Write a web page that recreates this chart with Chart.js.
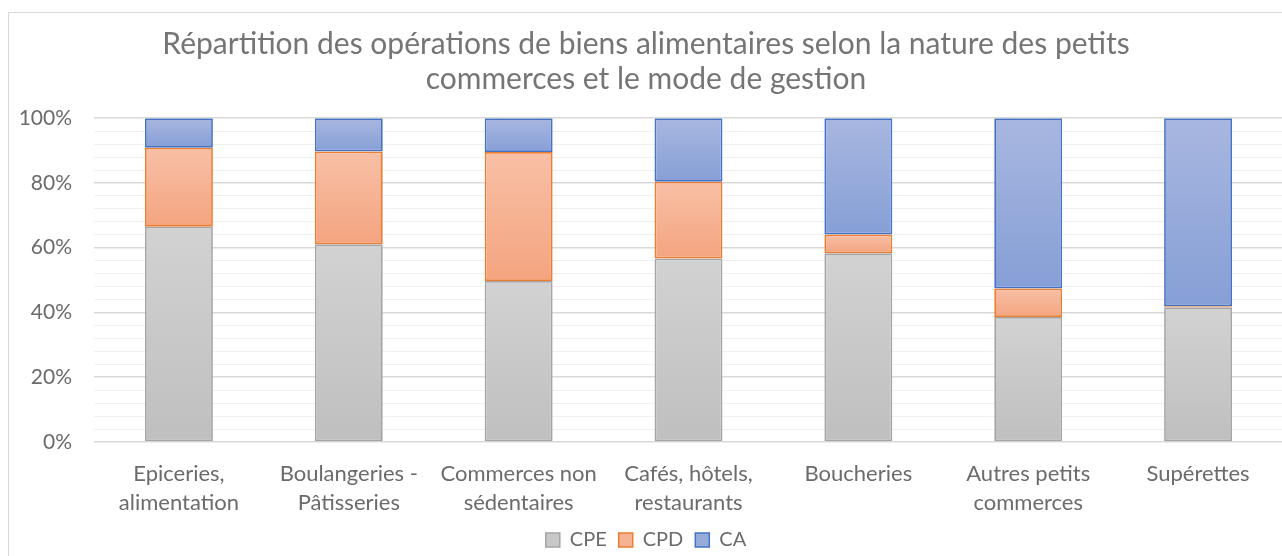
<!DOCTYPE html>
<html><head><meta charset="utf-8">
<script src="https://cdn.jsdelivr.net/npm/chart.js@4.4.0/dist/chart.umd.min.js"></script>
<style>
html,body{margin:0;padding:0;background:#fff;overflow:hidden;width:1282px;height:556px;}
#wrap{position:absolute;left:8px;top:12px;width:1300px;height:560px;border:1px solid #d9d9d9;background:#fff;}
canvas{display:block;}
</style></head><body>
<div id="wrap"><canvas id="c" width="1300" height="560"></canvas></div>
<script>
const categories = [
  ["Epiceries,", "alimentation"],
  ["Boulangeries -", "Pâtisseries"],
  ["Commerces non", "sédentaires"],
  ["Cafés, hôtels,", "restaurants"],
  ["Boucheries"],
  ["Autres petits", "commerces"],
  ["Supérettes"]
];
const CPE = [66.5, 61.1, 49.7, 56.7, 58.3, 38.6, 41.6];
const CPD = [24.4, 28.6, 39.9, 23.7, 5.8, 8.8, 0.3];
const CA  = [9.1, 10.3, 10.4, 19.6, 35.9, 52.6, 58.1];
const titleLines = ["Répartition des opérations de biens alimentaires selon la nature des petits", "commerces et le mode de gestion"];

const seriesList = [CPE, CPD, CA];
const grads = [
  ['#d2d2d2', '#bfbfbf'],
  ['#f8c0a6', '#f4a47f'],
  ['#a8b7e0', '#869fd6']
];
function segFill(ctx) {
  const chart = ctx.chart;
  const ds = ctx.datasetIndex, i = ctx.dataIndex;
  const g = grads[ds];
  if (!chart.chartArea || !chart.scales.y || i === undefined) return g[1];
  let base = 0;
  for (let k = 0; k < ds; k++) base += seriesList[k][i];
  const top = base + seriesList[ds][i];
  const y = chart.scales.y;
  const y0 = y.getPixelForValue(top), y1 = y.getPixelForValue(base);
  if (!isFinite(y0) || !isFinite(y1) || y0 === y1) return g[1];
  const gr = chart.ctx.createLinearGradient(0, y0, 0, y1);
  gr.addColorStop(0, g[0]);
  gr.addColorStop(1, g[1]);
  return gr;
}
const textColor = '#6b6b6b';
const FONT = 'Lato, "Liberation Sans", sans-serif';

new Chart(document.getElementById('c'), {
  type: 'bar',
  data: {
    labels: categories,
    datasets: [
      {label: 'CPE', data: CPE, backgroundColor: segFill, borderColor: '#a5a5a5', borderWidth: 1.75, borderSkipped: false},
      {label: 'CPD', data: CPD, backgroundColor: segFill, borderColor: '#ed7d31', borderWidth: 1.75, borderSkipped: false},
      {label: 'CA',  data: CA,  backgroundColor: segFill, borderColor: '#4472c4', borderWidth: 1.75, borderSkipped: false}
    ]
  },
  options: {
    responsive: false,
    animation: false,
    layout: {padding: {left: 0, right: 26, top: 0, bottom: 13}},
    datasets: {bar: {categoryPercentage: 1, barPercentage: 0.4}},
    plugins: {
      title: {
        display: true, text: titleLines, color: '#757575',
        font: {family: FONT, size: 30, weight: 'normal', lineHeight: 1.17},
        padding: {top: 14, bottom: 21}
      },
      legend: {
        position: 'bottom',
        labels: {
          color: textColor, font: {family: FONT, size: 20},
          boxWidth: 14, boxHeight: 14, padding: 12,
          generateLabels(chart) {
            const fills = ['#c8c8c8', '#f6b394', '#97abdb'];
            return chart.data.datasets.map((d, i) => ({
              text: d.label, fillStyle: fills[i], strokeStyle: d.borderColor,
              lineWidth: 1.5, datasetIndex: i, fontColor: textColor, hidden: false
            }));
          }
        }
      },
      tooltip: {enabled: false}
    },
    scales: {
      x: {
        stacked: true,
        afterFit(scale) { scale.height = 76; },
        grid: {display: false, drawTicks: false},
        border: {display: false},
        ticks: {color: textColor, font: {family: FONT, size: 22, lineHeight: 1.3}, padding: 18, maxRotation: 0, autoSkip: false}
      },
      y: {
        stacked: true, min: 0, max: 100,
        afterFit(scale) { scale.width = 85; },
        grid: {
          drawTicks: false,
          color: (c) => (c.tick && c.tick.value % 20 === 0) ? '#d9d9d9' : '#f0f0f0',
          lineWidth: (c) => (c.tick && c.tick.value % 20 === 0) ? 1.5 : 1
        },
        border: {display: false},
        ticks: {
          stepSize: 4, autoSkip: false, padding: 22, color: textColor,
          font: {family: FONT, size: 21},
          callback: (v) => (v % 20 === 0) ? v + '%' : ''
        }
      }
    }
  }
});
</script>
</body></html>
